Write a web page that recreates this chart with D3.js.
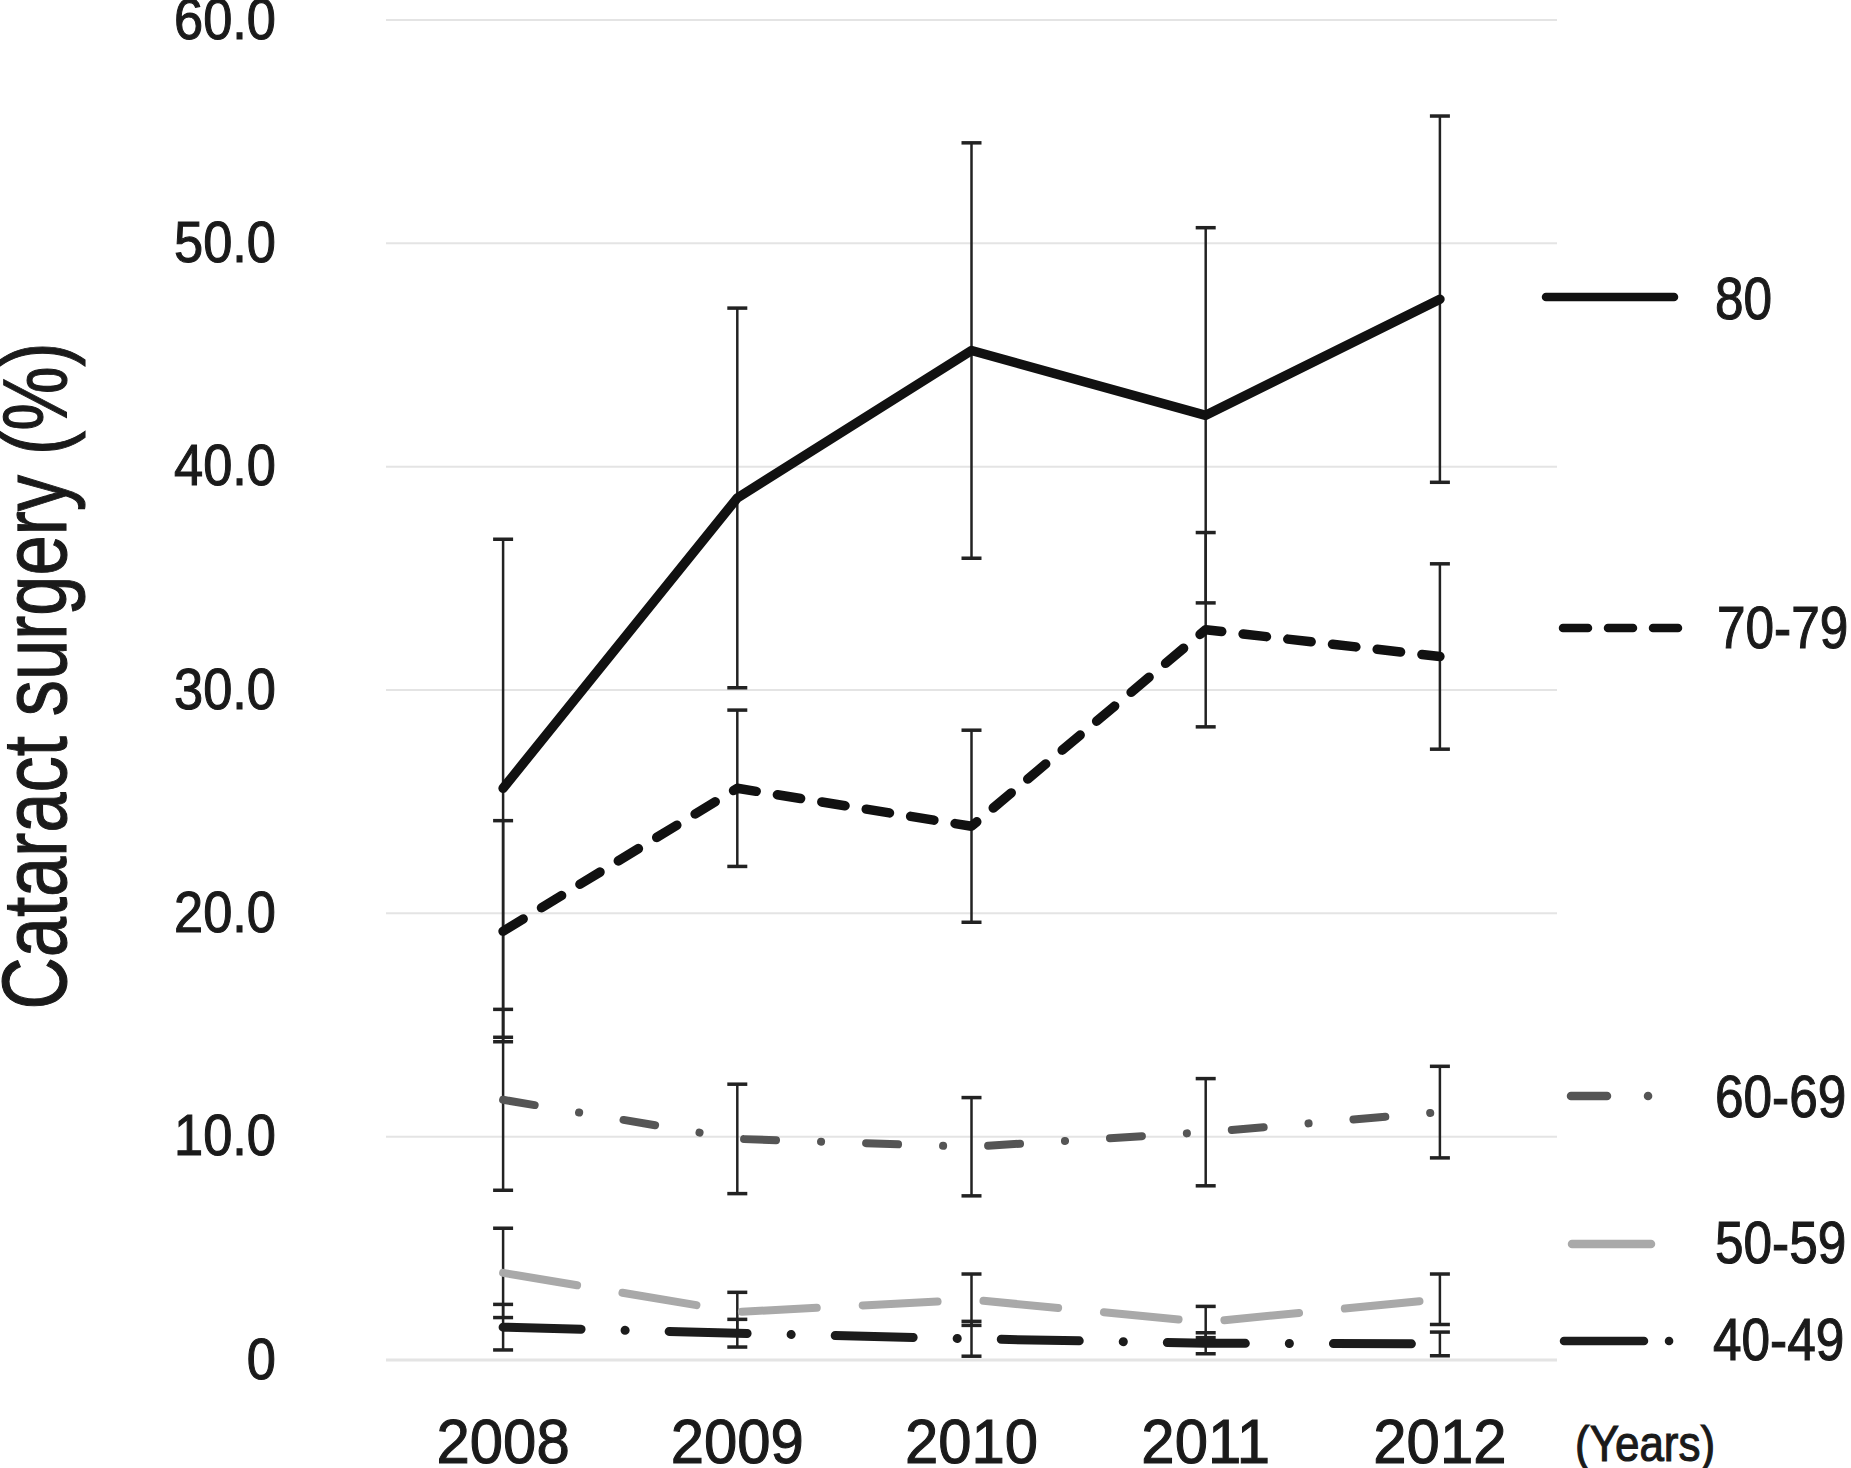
<!DOCTYPE html>
<html><head><meta charset="utf-8">
<script src="https://cdn.jsdelivr.net/npm/d3@7"></script>
<style>html,body{margin:0;padding:0;background:#fff;} svg{display:block;}</style>
</head><body>
<svg id="chart" width="1851" height="1468"></svg>
<script>
// ---------- data ----------
const years = ["2008", "2009", "2010", "2011", "2012"];
const yTicks = [0, 10, 20, 30, 40, 50, 60];
const groups = ["80", "70-79", "60-69", "50-59", "40-49"];
const mean80 = [25.6, 38.6, 45.2, 42.3, 47.5];
const sd80   = [11.15, 8.5, 9.3, 8.4, 8.2];
const mean70 = [19.2, 25.6, 23.9, 32.7, 31.5];
const sd70   = [4.95, 3.5, 4.3, 4.35, 4.15];
const mean60 = [11.65, 9.9, 9.55, 10.2, 11.1];
const sd60   = [4.05, 2.45, 2.2, 2.4, 2.05];
const mean50 = [3.9, 2.15, 2.7, 1.7, 2.72];
const sd50   = [2.0, 0.88, 1.15, 0.7, 1.13];
const mean40 = [1.47, 1.2, 0.95, 0.75, 0.72];
const sd40   = [1.02, 0.62, 0.78, 0.47, 0.53];
const yTitle = "Cataract surgery (%)";
const xUnit = "(Years)";

// ---------- styles / layout ----------
const series = [
  {name: groups[0], mean: mean80, sd: sd80, color: "#111", width: 9.5, dash: null,             legDash: null},
  {name: groups[1], mean: mean70, sd: sd70, color: "#111", width: 9.5, dash: "23.5,21.5",      legDash: "25,20"},
  {name: groups[2], mean: mean60, sd: sd60, color: "#555", width: 8,   dash: "32,45,0.1,45",   legDash: "36,41,0.1,100"},
  {name: groups[3], mean: mean50, sd: sd50, color: "#a9a9a9", width: 8, dash: "75,46",         legDash: null},
  {name: groups[4], mean: mean40, sd: sd40, color: "#1c1c1c", width: 9, dash: "78,44,0.1,44",  legDash: "80,25,0.1,100"}
];
const legendLayout = [
  {x1: 1546, x2: 1674, y: 297, tx: 1715, ty: 319},
  {x1: 1563, x2: 1678, y: 628, tx: 1717, ty: 648},
  {x1: 1571, x2: 1660, y: 1096, tx: 1715, ty: 1117},
  {x1: 1572, x2: 1651, y: 1244, tx: 1715, ty: 1263},
  {x1: 1564, x2: 1680, y: 1341, tx: 1713, ty: 1360}
];
const FONT = "'Liberation Sans', Arial, Helvetica, sans-serif";
const TXT = "#1a1a1a";
const boldify = sel => sel.attr("stroke", TXT).attr("stroke-width", 1.1).attr("paint-order", "stroke");

const svg = d3.select("#chart");
const x = d3.scaleBand().domain(years).range([386, 1557]);
const cx = d => x(d) + x.bandwidth() / 2;
const y = d3.scaleLinear().domain([0, 60]).range([1360, 20]);

// gridlines
svg.append("g").selectAll("line").data(yTicks).join("line")
  .attr("x1", 386).attr("x2", 1557)
  .attr("y1", d => y(d)).attr("y2", d => y(d))
  .attr("stroke", "#e4e4e4").attr("stroke-width", d => d === 0 ? 3 : 2);

// y axis
const yAxisG = svg.append("g").attr("transform", "translate(386,0)")
  .call(d3.axisLeft(y).tickValues(yTicks).tickSize(0).tickPadding(110)
    .tickFormat(d => d === 0 ? "0" : d3.format(".1f")(d)));
yAxisG.select(".domain").remove();
const ySx = 0.92;
yAxisG.selectAll("text")
  .attr("font-family", FONT).attr("font-size", 57).attr("fill", TXT)
  .attr("x", -110 / ySx).attr("transform", `scale(${ySx},1)`)
  .call(boldify);

// x axis
const xAxisG = svg.append("g").attr("transform", "translate(0,1360)")
  .call(d3.axisBottom(x).tickSize(0).tickPadding(58));
xAxisG.select(".domain").remove();
xAxisG.selectAll("text")
  .attr("font-family", FONT).attr("font-size", 63).attr("fill", TXT)
  .attr("transform", "scale(0.95,1)")
  .call(boldify);
svg.append("text").text(xUnit)
  .attr("x", 1575 / 0.88).attr("y", 1461)
  .attr("transform", "scale(0.88,1)")
  .attr("font-family", FONT).attr("font-size", 50).attr("fill", TXT)
  .call(boldify);

// y title
svg.append("text").text(yTitle)
  .attr("transform", "translate(66,676) rotate(-90)")
  .attr("text-anchor", "middle")
  .attr("textLength", 667).attr("lengthAdjust", "spacingAndGlyphs")
  .attr("font-family", FONT).attr("font-size", 90).attr("fill", TXT)
  .call(boldify);

// error bars
const eb = svg.append("g");
series.forEach(s => {
  years.forEach((yr, i) => {
    const xc = cx(yr), lo = y(s.mean[i] - s.sd[i]), hi = y(s.mean[i] + s.sd[i]);
    eb.append("line").attr("x1", xc).attr("x2", xc).attr("y1", lo).attr("y2", hi)
      .attr("stroke", "#222").attr("stroke-width", 2.5);
    [lo, hi].forEach(v => eb.append("line").attr("x1", xc - 10).attr("x2", xc + 10)
      .attr("y1", v).attr("y2", v).attr("stroke", "#222").attr("stroke-width", 3.5));
  });
});

// lines
const line = d3.line().x((d, i) => cx(years[i])).y(d => y(d));
series.slice().reverse().forEach(s => {
  svg.append("path").datum(s.mean).attr("d", line)
    .attr("fill", "none").attr("stroke", s.color).attr("stroke-width", s.width)
    .attr("stroke-linecap", "round").attr("stroke-linejoin", "round")
    .attr("stroke-dasharray", s.dash);
});

// legend
const lg = svg.append("g");
series.forEach((s, i) => {
  const L = legendLayout[i];
  lg.append("line").attr("x1", L.x1).attr("x2", L.x2).attr("y1", L.y).attr("y2", L.y)
    .attr("stroke", s.color).attr("stroke-width", 8.5)
    .attr("stroke-linecap", "round").attr("stroke-dasharray", s.legDash);
  lg.append("text").text(s.name)
    .attr("x", L.tx / 0.87).attr("y", L.ty).attr("transform", "scale(0.87,1)")
    .attr("font-family", FONT).attr("font-size", 59).attr("fill", TXT)
    .call(boldify);
});
</script>
</body></html>
